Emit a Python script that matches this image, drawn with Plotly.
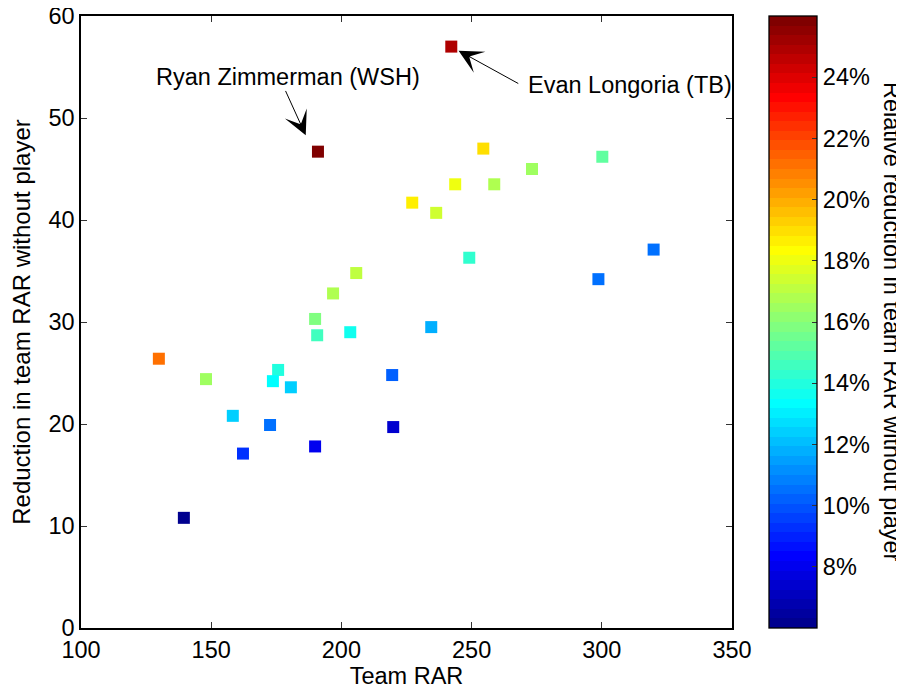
import numpy as np
import plotly.graph_objects as go

# ---- data ----
team_rar = [191.0, 242.2, 205.7, 196.8, 189.9, 190.7, 203.4, 254.5, 300.2, 273.2,
            243.7, 258.7, 227.2, 236.4, 249.1, 319.9, 298.7, 234.5, 129.9, 148.0,
            175.7, 173.7, 180.6, 219.5, 158.3, 172.6, 219.9, 189.9, 162.2, 139.5]
reduction = [46.7, 57.0, 34.8, 32.8, 30.3, 28.7, 29.0, 47.0, 46.2, 45.0,
             43.5, 43.5, 41.7, 40.7, 36.3, 37.1, 34.2, 29.5, 26.4, 24.4,
             25.3, 24.2, 23.6, 24.8, 20.8, 19.9, 19.7, 17.8, 17.1, 10.8]
x_ticks = [100, 150, 200, 250, 300, 350]
y_ticks = [0, 10, 20, 30, 40, 50, 60]
cbar_ticks = [8, 10, 12, 14, 16, 18, 20, 22, 24]
cbar_range = [6, 26]

relative = [100.0 * r / t for r, t in zip(reduction, team_rar)]

# ---- MATLAB jet(64) as a discrete colorscale ----
def jet(m=64):
    n = int(np.ceil(m / 4))
    u = np.concatenate([np.arange(1, n + 1) / n, np.ones(n - 1), np.arange(n, 0, -1) / n])
    g = int(np.ceil(n / 2)) - (1 if m % 4 == 1 else 0) + np.arange(1, len(u) + 1)
    r = g + n
    b = g - n
    g = g[g <= m]
    r = r[r <= m]
    b = b[b >= 1]
    J = np.zeros((m, 3))
    J[r - 1, 0] = u[:len(r)]
    J[g - 1, 1] = u[:len(g)]
    J[b - 1, 2] = u[len(u) - len(b):]
    return J

J = jet(64)
scale = []
for i, c in enumerate(J):
    col = "rgb(%d,%d,%d)" % tuple(int(round(v * 255)) for v in c)
    scale.append([i / 64, col])
    scale.append([(i + 1) / 64, col])

FONT = "Liberation Sans, Arial, Helvetica, sans-serif"
FS = 23.5

fig = go.Figure()
fig.add_trace(go.Scatter(
    x=team_rar, y=reduction, mode="markers",
    marker=dict(symbol="square", size=12, color=relative, colorscale=scale,
                cmin=min(relative), cmax=max(relative), showscale=False,
                line=dict(width=0)),
    hoverinfo="x+y", showlegend=False))

# colorbar carrier
fig.add_trace(go.Scatter(
    x=[None], y=[None], mode="markers", showlegend=False, hoverinfo="skip",
    marker=dict(color=[cbar_range[0]], colorscale=scale, cmin=cbar_range[0], cmax=cbar_range[1],
                showscale=True,
                colorbar=dict(
                    x=1.0563, xanchor="left", xref="paper", y=0, yanchor="bottom", len=1.0,
                    lenmode="fraction", thickness=48, thicknessmode="pixels",
                    outlinewidth=1.3, outlinecolor="black",
                    tickvals=cbar_ticks, ticktext=["%d%%" % v for v in cbar_ticks],
                    ticks="inside", ticklen=5, tickcolor="#333", tickwidth=1,
                    ticklabeloverflow="allow",
                    tickfont=dict(family=FONT, size=FS, color="black"),
                    xpad=0, ypad=0))))

axis_common = dict(showline=True, linecolor="black", linewidth=1.5, mirror="ticks",
                   ticks="inside", ticklen=6, tickcolor="#333", tickwidth=1,
                   showgrid=False, zeroline=False, automargin=False,
                   ticklabeloverflow="allow",
                   tickfont=dict(family=FONT, size=FS, color="black"))

# the page body adds an 8px offset, so the figure is 8px smaller than the window
fig.update_layout(
    width=896, height=682,
    margin=dict(l=73, r=172, t=8, b=62, autoexpand=False),
    paper_bgcolor="white", plot_bgcolor="white",
    font=dict(family=FONT, color="black"),
    xaxis=dict(range=[100, 350], tickvals=x_ticks, **axis_common,
               title=dict(text="Team RAR", font=dict(family=FONT, size=FS, color="black"), standoff=4)),
    yaxis=dict(range=[0, 60], tickvals=y_ticks, **axis_common,
               title=dict(text="Reduction in team RAR without player",
                          font=dict(family=FONT, size=24, color="black"), standoff=11)),
)

# colorbar label, reading top-to-bottom
fig.add_annotation(x=1.2458, y=0.5, xref="paper", yref="paper",
                   text="Relative reduction in team RAR without player",
                   textangle=90, showarrow=False, xanchor="center", yanchor="middle",
                   font=dict(family=FONT, size=FS, color="black"))

# labels and arrows
labels = [
    dict(text="Ryan Zimmerman (WSH)", x=179.3, y=54.0),
    dict(text="Evan Longoria (TB)", x=310.9, y=53.2),
]
for lb in labels:
    fig.add_annotation(x=lb["x"], y=lb["y"], text=lb["text"], showarrow=False,
                       font=dict(family=FONT, size=23.5, color="black"),
                       xanchor="center", yanchor="middle")

arrows = [
    dict(tail=(178.3, 52.8), tip=(186.3, 48.3)),
    dict(tail=(268.5, 53.3), tip=(245.0, 56.6)),
]
for ar in arrows:
    fig.add_annotation(x=ar["tip"][0], y=ar["tip"][1], ax=ar["tail"][0], ay=ar["tail"][1],
                       xref="x", yref="y", axref="x", ayref="y", text="",
                       showarrow=True, arrowhead=3, arrowsize=4, arrowwidth=1,
                       arrowcolor="black", standoff=0)

fig.write_html("out.html")
